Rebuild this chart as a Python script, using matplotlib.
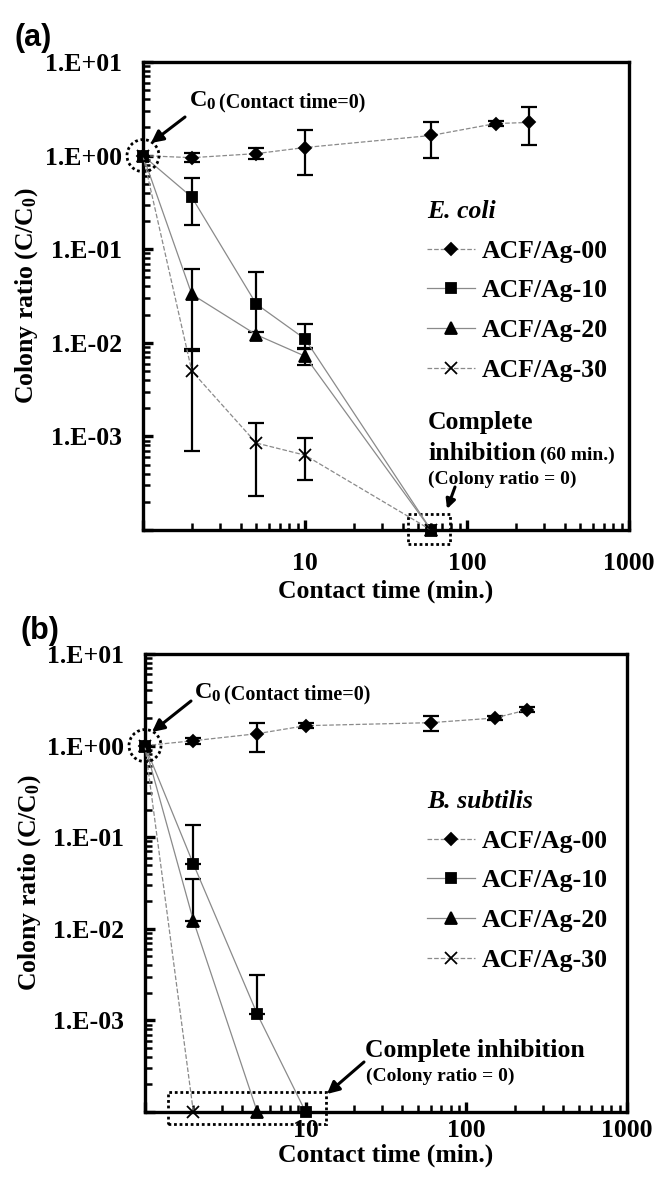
import numpy as np
import matplotlib
matplotlib.use('Agg')
import matplotlib.pyplot as plt
from matplotlib.patches import Circle, Rectangle, FancyArrowPatch
from matplotlib.transforms import ScaledTranslation
from matplotlib.ticker import LogLocator, NullFormatter

# ---- data (colony ratio C/C0, "0" drawn at 1e-4 floor) ----
ZERO = 1e-4

# (a) E. coli
ec_t00 = [1, 2, 5, 10, 60, 150, 240]
ec_00 = [1.0, 0.95, 1.05, 1.22, 1.64, 2.2, 2.26]
ec_00_lo = [1.0, 0.85, 0.92, 0.62, 0.95, 2.05, 1.31]
ec_00_hi = [1.0, 1.07, 1.2, 1.86, 2.26, 2.35, 3.3]

ec_t = [1, 2, 5, 10, 60]
ec_10 = [1.0, 0.36, 0.026, 0.011, ZERO]
ec_10_lo = [1.0, 0.18, 0.013, 0.0085, ZERO]
ec_10_hi = [1.0, 0.57, 0.057, 0.0157, ZERO]
ec_20 = [1.0, 0.033, 0.0122, 0.0072, ZERO]
ec_20_lo = [1.0, 0.0086, 0.0122, 0.0058, ZERO]
ec_20_hi = [1.0, 0.061, 0.0122, 0.0088, ZERO]
ec_30 = [1.0, 0.005, 0.00085, 0.00063, ZERO]
ec_30_lo = [1.0, 0.00069, 0.00023, 0.00034, ZERO]
ec_30_hi = [1.0, 0.0081, 0.0014, 0.00095, ZERO]

# (b) B. subtilis
bs_t00 = [1, 2, 5, 10, 60, 150, 240]
bs_00 = [1.0, 1.13, 1.35, 1.65, 1.78, 2.0, 2.46]
bs_00_lo = [1.0, 1.05, 0.86, 1.55, 1.45, 1.9, 2.3]
bs_00_hi = [1.0, 1.2, 1.78, 1.75, 2.1, 2.1, 2.65]
bs_t10 = [1, 2, 5, 10]
bs_10 = [1.0, 0.051, 0.00117, ZERO]
bs_10_hi = [1.0, 0.135, 0.0031, ZERO]
bs_t20 = [1, 2, 5]
bs_20 = [1.0, 0.0123, ZERO]
bs_20_hi = [1.0, 0.035, ZERO]
bs_t30 = [1, 2]
bs_30 = [1.0, ZERO]

labels = ['ACF/Ag-00', 'ACF/Ag-10', 'ACF/Ag-20', 'ACF/Ag-30']
markers = ['D', 's', '^', 'x']
msizes = [6.5, 7, 8, 8]
lstyles = ['--', '-', '-', '--']

ytick_vals = [1e-4, 1e-3, 1e-2, 1e-1, 1e0, 1e1]
ytick_lbls = ['', '1.E-03', '1.E-02', '1.E-01', '1.E+00', '1.E+01']
xtick_vals = [1, 10, 100, 1000]
xtick_lbls = ['', '10', '100', '1000']

plt.rcParams['font.family'] = ['Liberation Serif', 'DejaVu Serif']
plt.rcParams['font.weight'] = 'bold'
plt.rcParams['axes.labelweight'] = 'bold'
plt.rcParams['mathtext.fontset'] = 'custom'
plt.rcParams['mathtext.rm'] = 'Liberation Serif:bold'
plt.rcParams['mathtext.bf'] = 'Liberation Serif:bold'
plt.rcParams['mathtext.it'] = 'Liberation Serif:italic:bold'

W, H = 659, 1187
fig = plt.figure(figsize=(W / 100, H / 100), dpi=100)


def fpos(x, y):
    return (x / W, 1 - y / H)


def make_ax(left, top, right, bottom):
    return fig.add_axes([left / W, 1 - bottom / H, (right - left) / W, (bottom - top) / H])


ax_a = make_ax(143, 62, 629, 530)
ax_b = make_ax(145, 654, 627, 1112)


def draw_series(ax, t, y, lo, hi, k):
    y = np.array(y)
    lo = np.array(lo)
    hi = np.array(hi)
    has = (hi > y) | (lo < y)
    if has.any():
        ax.errorbar(np.array(t)[has], y[has], yerr=[(y - lo)[has], (hi - y)[has]],
                    fmt='none', ecolor='k', elinewidth=1.6, capsize=5.5,
                    capthick=1.6, clip_on=False, zorder=2)
    ax.plot(t, y, color='#8a8a8a', lw=0.9, ls=lstyles[k], marker=markers[k],
            ms=msizes[k], mfc='k', mec='k', mew=1.3, label=labels[k],
            clip_on=False, zorder=3)


def style_ax(ax, xpad):
    ax.set_xscale('log')
    ax.set_yscale('log')
    ax.set_xlim(1, 1000)
    ax.set_ylim(1e-4, 10)
    ax.set_yticks(ytick_vals)
    ax.set_yticklabels(ytick_lbls)
    ax.set_xticks(xtick_vals)
    ax.set_xticklabels(xtick_lbls)
    ax.yaxis.set_minor_locator(LogLocator(base=10, subs=np.arange(2, 10)))
    ax.xaxis.set_minor_locator(LogLocator(base=10, subs=np.arange(2, 10)))
    ax.yaxis.set_minor_formatter(NullFormatter())
    ax.xaxis.set_minor_formatter(NullFormatter())
    ax.tick_params(which='both', direction='in', top=False, right=False,
                   labelsize=18.5)
    ax.tick_params(which='major', length=7, width=2.4)
    ax.tick_params(which='minor', length=5, width=1.8)
    ax.tick_params(axis='y', which='major', pad=15)
    ax.tick_params(axis='x', which='major', pad=xpad)
    for s in ax.spines.values():
        s.set_linewidth(2.4)
    ax.set_ylabel(r'Colony ratio (C/C$_\mathbf{0}$)', fontsize=18.5, fontweight='bold')
    ax.yaxis.label.set_va('center')
    ax.yaxis.set_label_coords(-0.24, 0.5)
    ax.set_xlabel('Contact time (min.)', fontsize=18.5, fontweight='bold')
    ax.xaxis.label.set_va('center')


def dotted_circle(ax):
    trans = fig.dpi_scale_trans + ScaledTranslation(1, 1, ax.transData)
    c = Circle((0, 0), 0.16, transform=trans, fill=False, ls=(0, (1, 1)),
               lw=2.0, ec='k', clip_on=False, zorder=4)
    ax.add_artist(c)


# ---- panel (a) ----
draw_series(ax_a, ec_t00, ec_00, ec_00_lo, ec_00_hi, 0)
draw_series(ax_a, ec_t, ec_10, ec_10_lo, ec_10_hi, 1)
draw_series(ax_a, ec_t, ec_20, ec_20_lo, ec_20_hi, 2)
draw_series(ax_a, ec_t, ec_30, ec_30_lo, ec_30_hi, 3)
style_ax(ax_a, 16)
ax_a.xaxis.set_label_coords(0.5, -0.13)

# ---- panel (b) ----
draw_series(ax_b, bs_t00, bs_00, bs_00_lo, bs_00_hi, 0)
draw_series(ax_b, bs_t10, bs_10, bs_10, bs_10_hi, 1)
draw_series(ax_b, bs_t20, bs_20, bs_20, bs_20_hi, 2)
draw_series(ax_b, bs_t30, bs_30, bs_30, bs_30, 3)
style_ax(ax_b, 5)
ax_b.xaxis.set_label_coords(0.5, -0.094)

fig.canvas.draw()
dotted_circle(ax_a)
dotted_circle(ax_b)
ax_a.add_artist(Rectangle((43, 7e-5), 78 - 43, 1.5e-4 - 7e-5, fill=False,
                          ls=(0, (1, 1)), lw=2.0, ec='k', clip_on=False,
                          transform=ax_a.transData))
ax_b.add_artist(Rectangle((1.39, 7.4e-5), 13.4 - 1.39, 1.65e-4 - 7.4e-5, fill=False,
                          ls=(0, (1, 1)), lw=2.0, ec='k', clip_on=False,
                          transform=ax_b.transData))

# legends
for ax, title, top in [(ax_a, 'E. coli', 200), (ax_b, 'B. subtilis', 790)]:
    ax.legend(title=title, loc='upper left', bbox_to_anchor=fpos(427, top),
              bbox_transform=fig.transFigure, frameon=False, fontsize=18.5,
              title_fontproperties={'size': 18.5, 'style': 'italic', 'weight': 'bold'},
              handlelength=1.85, handletextpad=0.3, labelspacing=0.65,
              borderpad=0, borderaxespad=0, alignment='left')

# annotations: C0 circles
arrow = dict(arrowstyle='-|>', lw=2.2, color='k', mutation_scale=18, shrinkA=0, shrinkB=0)
ann = [
    ((189, 101), (219, 102), (185, 117), (151, 143)),
    ((194, 693), (224, 694), (191, 701), (152, 732)),
]
for cpos, tpos, a0, a1 in ann:
    fig.text(*fpos(*cpos), r'$\mathrm{C}_{0}$', fontsize=17.5, va='center', ha='left')
    fig.text(*fpos(*tpos), '(Contact time=0)', fontsize=14.5, va='center', ha='left')
    fig.add_artist(FancyArrowPatch(fpos(*a0), fpos(*a1), transform=fig.transFigure, **arrow))

# (a) complete inhibition block
fig.text(*fpos(428, 423), 'Complete', fontsize=18.5, va='center', ha='left')
fig.text(*fpos(428, 453), 'inhibition', fontsize=18.5, va='center', ha='left')
fig.text(*fpos(540, 455), '(60 min.)', fontsize=14, va='center', ha='left')
fig.text(*fpos(428, 479), '(Colony ratio = 0)', fontsize=14, va='center', ha='left')
fig.add_artist(FancyArrowPatch(fpos(455, 487), fpos(447, 509), transform=fig.transFigure,
                               arrowstyle='-|>', lw=2.2, color='k', mutation_scale=14,
                               shrinkA=0, shrinkB=0))

# (b) complete inhibition block
fig.text(*fpos(365, 1050), 'Complete inhibition', fontsize=18.5, va='center', ha='left')
fig.text(*fpos(366, 1076), '(Colony ratio = 0)', fontsize=14, va='center', ha='left')
fig.add_artist(FancyArrowPatch(fpos(364, 1062), fpos(327, 1094), transform=fig.transFigure,
                               **arrow))

# panel letters
fig.text(*fpos(15, 38), '(a)', fontsize=22, fontweight='bold',
         family='Liberation Sans', va='center', ha='left')
fig.text(*fpos(20, 631), '(b)', fontsize=22, fontweight='bold',
         family='Liberation Sans', va='center', ha='left')

fig.savefig('out.png', dpi=100)
